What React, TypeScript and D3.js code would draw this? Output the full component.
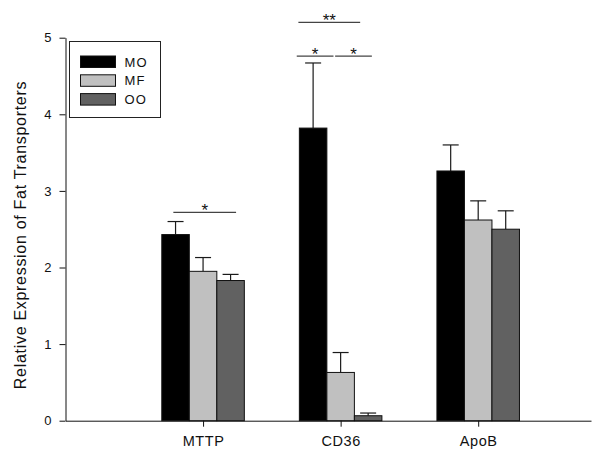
import { useEffect, useRef } from "react"
import * as d3 from "d3"

// categories and series
const categories = ["MTTP", "CD36", "ApoB"]
const series = ["MO", "MF", "OO"]
const seriesColors = ["#000000", "#c0c0c0", "#616161"]

// means per series, in category order
const meanMO = [2.43, 3.82, 3.26]
const meanMF = [1.95, 0.63, 2.62]
const meanOO = [1.83, 0.065, 2.5]

// upper end of the error bar (mean + SE)
const errMO = [2.6, 4.67, 3.6]
const errMF = [2.13, 0.89, 2.87]
const errOO = [1.91, 0.1, 2.74]

const yTicks = [0, 1, 2, 3, 4, 5]

// significance brackets: x in category units, y in data units
const sigLines = [
  { x1: 0.784, x2: 1.24, y: 2.72, label: "*" },
  { x1: 1.693, x2: 2.142, y: 5.2, label: "**" },
  { x1: 1.681, x2: 1.948, y: 4.76, label: "*" },
  { x1: 1.96, x2: 2.227, y: 4.76, label: "*" },
]

const FONT = "'Liberation Sans', Arial, sans-serif"

export default function App() {
  const ref = useRef<SVGSVGElement>(null)

  useEffect(() => {
    const width = 600
    const height = 457
    const svg = d3.select(ref.current)
    svg.selectAll("*").remove()

    const x = d3.scaleLinear().domain([0, 3.82]).range([65.5, 591])
    const y = d3.scaleLinear().domain([0, 5]).range([420.7, 37.7])
    const barW = 0.2
    const inner = d3.scaleBand()
      .domain(series)
      .range([-1.5 * barW, 1.5 * barW])

    const means = [meanMO, meanMF, meanOO]
    const errs = [errMO, errMF, errOO]

    const rows = categories.flatMap((c, ci) =>
      series.map((s, si) => ({
        cat: c,
        pos: ci + 1,
        s,
        si,
        v: means[si][ci],
        e: errs[si][ci],
      }))
    )

    // error bars (drawn first, bar covers the lower part)
    const eb = svg.append("g").attr("stroke", "#1a1a1a").attr("stroke-width", 1.2)
    rows.forEach(d => {
      const cx = x(d.pos + (inner(d.s) as number) + barW / 2)
      eb.append("line")
        .attr("x1", cx).attr("x2", cx)
        .attr("y1", y(d.v)).attr("y2", y(d.e))
      eb.append("line")
        .attr("x1", cx - 8).attr("x2", cx + 8)
        .attr("y1", y(d.e)).attr("y2", y(d.e))
    })

    // bars
    svg.append("g")
      .selectAll("rect")
      .data(rows)
      .join("rect")
        .attr("x", d => x(d.pos + (inner(d.s) as number)))
        .attr("width", d => x(d.pos + (inner(d.s) as number) + barW) - x(d.pos + (inner(d.s) as number)))
        .attr("y", d => y(d.v))
        .attr("height", d => y(0) - y(d.v))
        .attr("fill", d => seriesColors[d.si])
        .attr("stroke", "#111")
        .attr("stroke-width", 1)

    // y axis
    svg.append("g")
        .attr("transform", `translate(${x(0)},0)`)
      .call(d3.axisLeft(y).tickValues(yTicks).tickFormat(d3.format("d")).tickSize(6).tickPadding(8).tickSizeOuter(0))
      .call(g => g.selectAll("text").attr("font-size", 13).attr("font-family", FONT).attr("fill", "#111"))
      .call(g => g.selectAll("line, path").attr("stroke", "#111"))

    // x axis
    svg.append("g")
        .attr("transform", `translate(0,${y(0)})`)
      .call(d3.axisBottom(x).tickValues([1, 2, 3]).tickFormat((d) => categories[(d as number) - 1]).tickSize(6).tickPadding(9).tickSizeOuter(0))
      .call(g => g.selectAll("text").attr("font-size", 14.5).attr("font-family", FONT).attr("letter-spacing", 0.6).attr("fill", "#111"))
      .call(g => g.selectAll("line, path").attr("stroke", "#111"))

    // y label
    svg.append("text")
      .attr("transform", `translate(26,235)rotate(-90)`)
      .attr("text-anchor", "middle")
      .attr("font-size", 16)
      .attr("letter-spacing", 0.7)
      .attr("font-family", FONT)
      .attr("fill", "#111")
      .text("Relative Expression of Fat Transporters")

    // significance marks
    const sig = svg.append("g")
    sigLines.forEach(d => {
      sig.append("line")
        .attr("x1", x(d.x1)).attr("x2", x(d.x2))
        .attr("y1", y(d.y)).attr("y2", y(d.y))
        .attr("stroke", "#444").attr("stroke-width", 1.2)
      sig.append("text")
        .attr("x", (x(d.x1) + x(d.x2)) / 2)
        .attr("y", y(d.y) + 4)
        .attr("text-anchor", "middle")
        .attr("font-size", 17)
        .attr("font-family", FONT)
        .attr("fill", "#111")
        .text(d.label)
    })

    // legend
    const lg = svg.append("g").attr("transform", "translate(69.5,41.5)")
    lg.append("rect")
      .attr("width", 91).attr("height", 76)
      .attr("fill", "#fff").attr("stroke", "#222").attr("stroke-width", 1)
    series.forEach((s, i) => {
      lg.append("rect")
        .attr("x", 11).attr("y", 14.5 + i * 18.8)
        .attr("width", 35).attr("height", 11.5)
        .attr("fill", seriesColors[i]).attr("stroke", "#111")
      lg.append("text")
        .attr("x", 55).attr("y", 20.5 + i * 18.8)
        .attr("dy", "0.35em")
        .attr("font-size", 13)
        .attr("letter-spacing", 1.2)
        .attr("font-family", FONT)
        .attr("fill", "#111")
        .text(s)
    })

    svg.attr("width", width).attr("height", height)
  }, [])

  return (
    <svg
      ref={ref}
      width={600}
      height={457}
      style={{ position: "absolute", left: 0, top: 0, background: "#fff" }}
    />
  )
}
